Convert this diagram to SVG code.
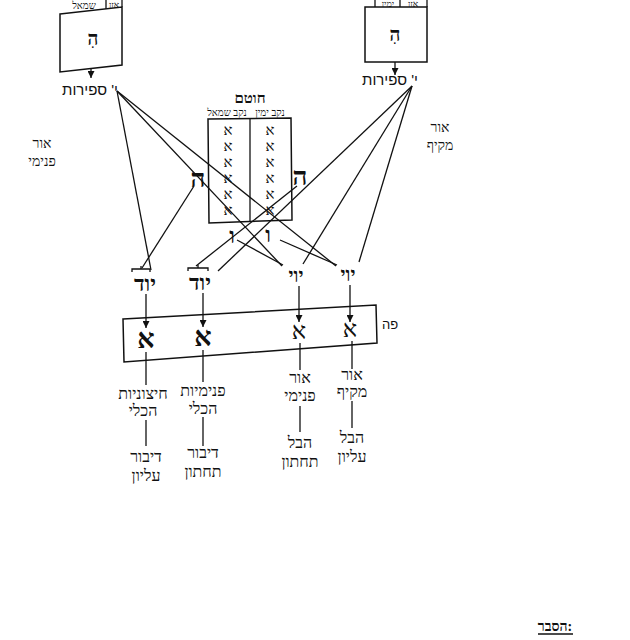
<svg xmlns="http://www.w3.org/2000/svg" width="630" height="640" viewBox="0 0 630 640">
<defs>
<marker id="ah" viewBox="0 0 10 10" refX="10" refY="5" markerWidth="7" markerHeight="7" orient="auto" markerUnits="userSpaceOnUse">
<path d="M0,0 L10,5 L0,10 z" fill="#111"/>
</marker>
<style>
.ln{stroke:#111;stroke-width:1.3;fill:none}
.bx{stroke:#111;stroke-width:1.5;fill:#fff}
.ar{stroke:#111;stroke-width:1.3;fill:none;marker-end:url(#ah)}
.sr{font-family:"Liberation Serif","DejaVu Serif",serif;fill:#111;text-anchor:middle}
.ss{font-family:"Liberation Sans","DejaVu Sans",sans-serif;fill:#111;text-anchor:middle}
.b{font-weight:bold}
</style>
</defs>
<rect width="630" height="640" fill="#fff"/>

<g id="connectors">
<line class="ln" x1="117" y1="91" x2="151" y2="270"/>
<line class="ln" x1="117" y1="91" x2="282" y2="266"/>
<line class="ln" x1="117" y1="91" x2="336" y2="266"/>
<line class="ln" x1="412" y1="86" x2="303" y2="264"/>
<line class="ln" x1="412" y1="86" x2="359" y2="262"/>
<line class="ln" x1="412" y1="86" x2="218" y2="271"/>
<line class="ln" x1="194" y1="186" x2="142" y2="268"/>
<line class="ln" x1="297" y1="186" x2="196" y2="266"/>
<line class="ln" x1="237" y1="240" x2="283" y2="265"/>
<line class="ln" x1="280" y1="240" x2="337" y2="265"/>
<line class="ar" x1="91" y1="66" x2="91" y2="78"/>
<line class="ar" x1="395" y1="62" x2="395" y2="75"/>
<line class="ar" x1="146" y1="294" x2="146" y2="328"/>
<line class="ar" x1="203" y1="293" x2="203" y2="327"/>
<line class="ar" x1="299" y1="286" x2="299" y2="322"/>
<line class="ar" x1="350" y1="285" x2="350" y2="322"/>
<line class="ln" x1="146" y1="352" x2="146" y2="385"/>
<line class="ln" x1="146" y1="420" x2="146" y2="446"/>
<line class="ln" x1="203" y1="350" x2="203" y2="382"/>
<line class="ln" x1="203" y1="417" x2="203" y2="446"/>
<line class="ln" x1="300" y1="343" x2="300" y2="370"/>
<line class="ln" x1="300" y1="406" x2="300" y2="432"/>
<line class="ln" x1="352" y1="341" x2="352" y2="369"/>
<line class="ln" x1="352" y1="401" x2="352" y2="428"/>
</g>

<g id="ozen-smol">
<line class="ln" x1="106" y1="0" x2="106" y2="9"/>
<line class="ln" x1="122" y1="0" x2="122" y2="7"/>
<text class="sr" x="84" y="9" font-size="10">שמאל</text>
<text class="sr" x="114" y="8" font-size="9">אזן</text>
<polygon class="bx" points="60,14 122,7 122,65 60,72"/>
<text class="sr b" x="93" y="45" font-size="19">הִ</text>
</g>

<g id="sefirot-left">
<text class="ss" x="90" y="95" font-size="15">י' ספירות</text>
</g>

<g id="ozen-yamin">
<line class="ln" x1="375" y1="0" x2="375" y2="7"/>
<line class="ln" x1="400" y1="0" x2="400" y2="7"/>
<line class="ln" x1="427" y1="0" x2="427" y2="7"/>
<text class="sr" x="388" y="7" font-size="9">ימין</text>
<text class="sr" x="413" y="7" font-size="9">אזן</text>
<rect class="bx" x="365" y="7" width="62" height="55"/>
<text class="sr b" x="395" y="41" font-size="19">הִ</text>
</g>

<g id="sefirot-right">
<text class="ss" x="390" y="85" font-size="15">י' ספירות</text>
</g>

<g id="or-pnimi-side">
<text class="sr" x="42" y="148" font-size="14">אור</text>
<text class="sr" x="42" y="166" font-size="14">פנימי</text>
</g>
<g id="or-makif-side">
<text class="sr" x="440" y="132" font-size="14">אור</text>
<text class="sr" x="440" y="150" font-size="14">מקיף</text>
</g>

<g id="chotem">
<text class="sr b" x="250" y="103" font-size="15">חוטם</text>
<text class="sr" x="227" y="116" font-size="10">נקב שמאל</text>
<text class="sr" x="270" y="116" font-size="10">נקב ימין</text>
<polygon class="bx" points="208,119 291,118 292,220 209,223" fill-opacity="0"/>
<line class="ln" x1="250" y1="118" x2="250" y2="222"/>
<g class="sr" font-size="15">
<text x="228" y="135">א</text><text x="228" y="151">א</text><text x="228" y="167">א</text>
<text x="228" y="183">א</text><text x="228" y="199">א</text><text x="228" y="215">א</text>
<text x="270" y="135">א</text><text x="270" y="151">א</text><text x="270" y="167">א</text>
<text x="270" y="183">א</text><text x="270" y="199">א</text><text x="270" y="215">א</text>
</g>
</g>

<g id="he-left"><text class="sr b" x="198" y="187" font-size="26">ה</text></g>
<g id="he-right"><text class="sr b" x="300" y="185" font-size="26">ה</text></g>
<g id="vav-left"><text class="sr b" x="232" y="243" font-size="22">ו</text></g>
<g id="vav-right"><text class="sr b" x="268" y="242" font-size="22">ו</text></g>

<g id="yud-1">
<path class="ln" d="M132,272 L132,269 L150,269 L150,272 M141,269 L141,266"/>
<text class="sr b" x="145" y="291" font-size="22">יוד</text>
</g>
<g id="yud-2">
<path class="ln" d="M188,271 L188,268 L208,268 L208,271 M198,268 L198,265"/>
<text class="sr b" x="200" y="290" font-size="22">יוד</text>
</g>
<g id="yvy-3"><text class="sr b" x="296" y="282" font-size="19">יוי</text></g>
<g id="yvy-4"><text class="sr b" x="348" y="281" font-size="19">יוי</text></g>

<g id="peh">
<polygon class="bx" points="123,319 376,305 377,343 124,362" fill-opacity="0"/>
<text class="ss" x="390" y="329" font-size="13">פה</text>
<text class="sr b" x="146" y="348" font-size="27">א</text>
<text class="sr b" x="203" y="346" font-size="27">א</text>
<text class="sr" x="299" y="339" font-size="24">א</text>
<text class="sr" x="350" y="337" font-size="24">א</text>
</g>

<g id="chitzoniyut">
<text class="sr" x="143" y="399" font-size="16">חיצוניות</text>
<text class="sr" x="143" y="416" font-size="16">הכלי</text>
</g>
<g id="dibur-elyon">
<text class="sr" x="146" y="462" font-size="16">דיבור</text>
<text class="sr" x="146" y="481" font-size="16">עליון</text>
</g>
<g id="pnimiyut">
<text class="sr" x="203" y="396" font-size="16">פנימיות</text>
<text class="sr" x="203" y="414" font-size="16">הכלי</text>
</g>
<g id="dibur-tachton">
<text class="sr" x="203" y="458" font-size="16">דיבור</text>
<text class="sr" x="203" y="477" font-size="16">תחתון</text>
</g>
<g id="or-pnimi">
<text class="sr" x="300" y="383" font-size="16">אור</text>
<text class="sr" x="300" y="401" font-size="16">פנימי</text>
</g>
<g id="hevel-tachton">
<text class="sr" x="300" y="448" font-size="16">הבל</text>
<text class="sr" x="300" y="467" font-size="16">תחתון</text>
</g>
<g id="or-makif">
<text class="sr" x="352" y="380" font-size="16">אור</text>
<text class="sr" x="352" y="397" font-size="16">מקיף</text>
</g>
<g id="hevel-elyon">
<text class="sr" x="352" y="443" font-size="16">הבל</text>
<text class="sr" x="352" y="462" font-size="16">עליון</text>
</g>

<g id="hesber">
<text class="sr b" x="555" y="631" font-size="14">הסבר:</text>
<line class="ln" x1="538" y1="634" x2="573" y2="634" stroke-width="1.5"/>
</g>
</svg>
